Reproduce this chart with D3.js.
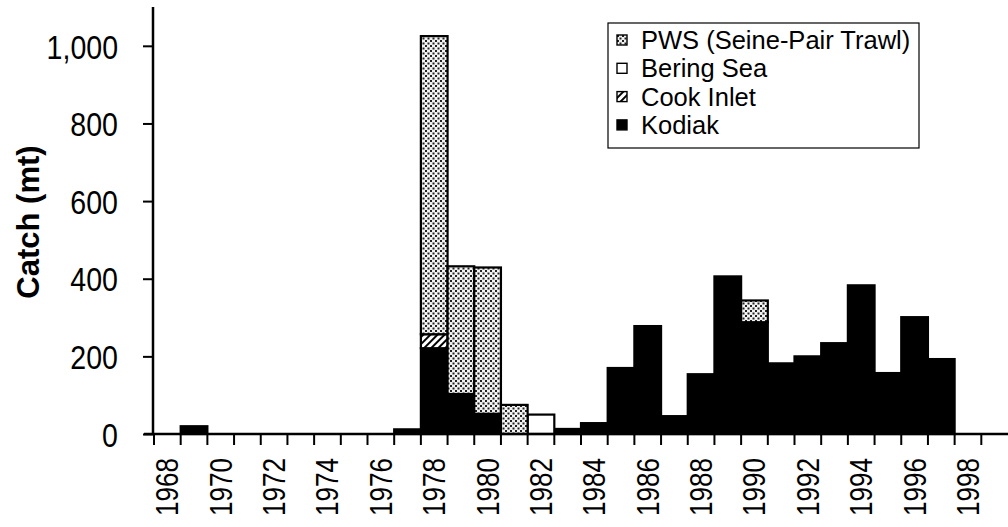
<!DOCTYPE html>
<html>
<head>
<meta charset="utf-8">
<script src="https://cdn.jsdelivr.net/npm/d3@7"></script>
<style>
  body { margin: 0; background: #fff; }
  svg { display: block; font-family: 'Liberation Sans', Arial, sans-serif; }
</style>
</head>
<body>
<div id="chart"></div>
<script>
const years = d3.range(1968, 2000);
const yTicks = [0, 200, 400, 600, 800, 1000];
const xLabels = d3.range(1968, 1999, 2);
const seriesNames = ['Kodiak', 'Cook Inlet', 'Bering Sea', 'PWS (Seine-Pair Trawl)'];
const legendOrder = ['PWS (Seine-Pair Trawl)', 'Bering Sea', 'Cook Inlet', 'Kodiak'];

// catch in mt, by year 1968..1999
const kodiak = [0, 20, 0, 0, 0, 0, 0, 0, 0, 12, 221, 103, 52, 0, 0, 13,
  28, 170, 278, 46, 154, 406, 288, 182, 200, 234, 383, 157, 301, 193, 0, 0];
const cookInlet = [0, 0, 0, 0, 0, 0, 0, 0, 0, 0, 36, 0, 0, 0, 0, 0,
  0, 0, 0, 0, 0, 0, 0, 0, 0, 0, 0, 0, 0, 0, 0, 0];
const beringSea = [0, 0, 0, 0, 0, 0, 0, 0, 0, 0, 0, 0, 0, 0, 50, 0,
  0, 0, 0, 0, 0, 0, 0, 0, 0, 0, 0, 0, 0, 0, 0, 0];
const pws = [0, 0, 0, 0, 0, 0, 0, 0, 0, 0, 768, 329, 377, 75, 0, 0,
  0, 0, 0, 0, 0, 0, 56, 0, 0, 0, 0, 0, 0, 0, 0, 0];

const width = 1008;
const height = 527;
const narrow = 0.84; // tick labels in the scan are condensed
const fills = {
  'Kodiak': '#000',
  'Cook Inlet': 'url(#hatch)',
  'Bering Sea': '#fff',
  'PWS (Seine-Pair Trawl)': 'url(#dots)',
};

const table = years.map((year, i) => ({
  year,
  'Kodiak': kodiak[i],
  'Cook Inlet': cookInlet[i],
  'Bering Sea': beringSea[i],
  'PWS (Seine-Pair Trawl)': pws[i],
}));

const svg = d3.select('#chart').append('svg')
  .attr('width', width)
  .attr('height', height);

const defs = svg.append('defs');
const dots = defs.append('pattern')
  .attr('id', 'dots')
  .attr('patternUnits', 'userSpaceOnUse')
  .attr('width', 5)
  .attr('height', 5);
dots.append('rect').attr('width', 5).attr('height', 5).attr('fill', '#f2f2f2');
dots.append('rect').attr('x', 0).attr('y', 0).attr('width', 2).attr('height', 2).attr('fill', '#222');
dots.append('rect').attr('x', 2.5).attr('y', 2.5).attr('width', 2).attr('height', 2).attr('fill', '#222');

const hatch = defs.append('pattern')
  .attr('id', 'hatch')
  .attr('patternUnits', 'userSpaceOnUse')
  .attr('width', 5)
  .attr('height', 5)
  .attr('patternTransform', 'rotate(45)');
hatch.append('rect').attr('width', 5).attr('height', 5).attr('fill', '#fff');
hatch.append('rect').attr('width', 2).attr('height', 5).attr('fill', '#000');

const x = d3.scaleBand()
  .domain(years)
  .range([154, 1008])
  .padding(0);

const y = d3.scaleLinear()
  .domain([0, 1100])
  .range([434, 7]);

const stack = d3.stack().keys(seriesNames);
const layers = stack(table);

// bars
svg.append('g')
  .selectAll('g')
  .data(layers)
  .join('g')
  .attr('fill', (d) => fills[d.key])
  .selectAll('rect')
  .data((d) => d.filter((s) => s[1] - s[0] > 0))
  .join('rect')
  .attr('x', (d) => x(d.data.year))
  .attr('y', (d) => y(d[1]))
  .attr('width', x.bandwidth())
  .attr('height', (d) => y(d[0]) - y(d[1]))
  .attr('stroke', '#000')
  .attr('stroke-width', 2.2);

// y axis
const yAxis = svg.append('g')
  .attr('transform', 'translate(153,0)')
  .call(d3.axisLeft(y).tickValues(yTicks).tickSize(10).tickFormat(d3.format(',')));
yAxis.select('.domain').attr('d', `M0,${y(0)}V${y(1100)}`).attr('stroke-width', 2.5);
yAxis.selectAll('.tick line').attr('stroke-width', 2);
yAxis.selectAll('.tick text')
  .attr('x', null)
  .attr('dy', '0.36em')
  .attr('transform', `translate(-35,0) scale(${narrow},1)`)
  .attr('font-size', 34)
  .attr('fill', '#000');

// x axis baseline and ticks at bin edges
const xAxis = svg.append('g');
xAxis.append('line')
  .attr('x1', 144)
  .attr('x2', width)
  .attr('y1', y(0))
  .attr('y2', y(0))
  .attr('stroke', '#000')
  .attr('stroke-width', 2.5);
xAxis.selectAll('.xtick')
  .data(years)
  .join('line')
  .attr('class', 'xtick')
  .attr('x1', (d) => x(d))
  .attr('x2', (d) => x(d))
  .attr('y1', y(0))
  .attr('y2', y(0) + 11)
  .attr('stroke', '#000')
  .attr('stroke-width', 2);
xAxis.selectAll('.xlabel')
  .data(xLabels)
  .join('text')
  .attr('class', 'xlabel')
  .attr('transform', (d) => `translate(${x(d) + x.bandwidth() / 2 + 11},458) rotate(-90) scale(${narrow},1)`)
  .attr('text-anchor', 'end')
  .attr('font-size', 31)
  .text((d) => d);

// y label
svg.append('text')
  .attr('transform', 'translate(39,222) rotate(-90)')
  .attr('text-anchor', 'middle')
  .attr('font-size', 31)
  .attr('font-weight', 'bold')
  .text('Catch (mt)');

// legend
const legend = svg.append('g');
legend.append('rect')
  .attr('x', 608)
  .attr('y', 23)
  .attr('width', 311)
  .attr('height', 125)
  .attr('fill', '#fff')
  .attr('stroke', '#000')
  .attr('stroke-width', 1.2);
const items = legend.selectAll('.item')
  .data(legendOrder)
  .join('g')
  .attr('class', 'item')
  .attr('transform', (d, i) => `translate(617,${40 + i * 28.3})`);
items.append('rect')
  .attr('x', 0)
  .attr('y', -5)
  .attr('width', 10)
  .attr('height', 10)
  .attr('fill', (d) => fills[d])
  .attr('stroke', '#000')
  .attr('stroke-width', 1.4);
items.append('text')
  .attr('x', 24)
  .attr('y', 9)
  .attr('font-size', 25.5)
  .text((d) => d);
</script>
</body>
</html>
